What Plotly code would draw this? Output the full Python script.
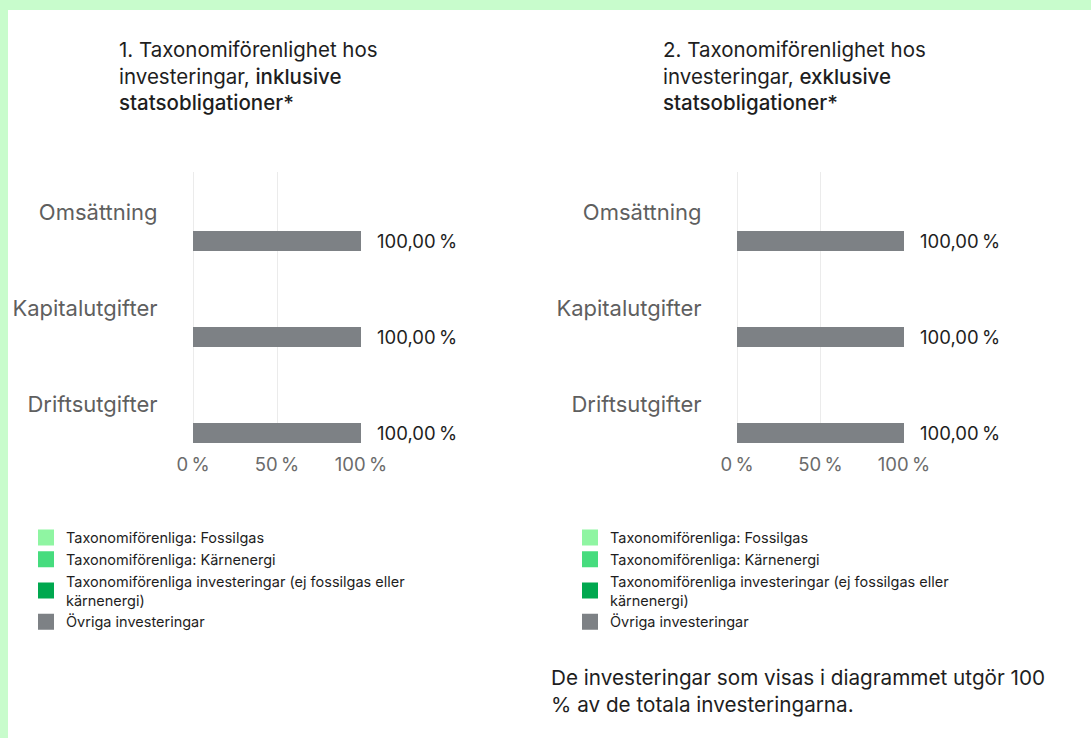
import plotly.graph_objects as go

W, H = 1091, 738

categories = ["Omsättning", "Kapitalutgifter", "Driftsutgifter"]
series_names = [
    "Taxonomiförenliga: Fossilgas",
    "Taxonomiförenliga: Kärnenergi",
    "Taxonomiförenliga investeringar (ej fossilgas eller<br>kärnenergi)",
    "Övriga investeringar",
]
series_colors = ["#8ff5a2", "#46dc7e", "#00a84f", "#7d8185"]

# values (%) for chart 1 (incl. government bonds)
incl_fossil = [0, 0, 0]
incl_nuclear = [0, 0, 0]
incl_aligned = [0, 0, 0]
incl_other = [100, 100, 100]

# values (%) for chart 2 (excl. government bonds)
excl_fossil = [0, 0, 0]
excl_nuclear = [0, 0, 0]
excl_aligned = [0, 0, 0]
excl_other = [100, 100, 100]

value_labels_incl = ["100,00\u202f%", "100,00\u202f%", "100,00\u202f%"]
value_labels_excl = ["100,00\u202f%", "100,00\u202f%", "100,00\u202f%"]

x_tickvals = [0, 50, 100]
x_ticktext = ["0\u202f%", "50\u202f%", "100\u202f%"]

BOLD = '<span style="font-weight:500">{}</span>'
titles = [
    "1. Taxonomiförenlighet hos<br>investeringar, " + BOLD.format("inklusive") + "<br>" + BOLD.format("statsobligationer*"),
    "2. Taxonomiförenlighet hos<br>investeringar, " + BOLD.format("exklusive") + "<br>" + BOLD.format("statsobligationer*"),
]
footnote = "De investeringar som visas i diagrammet utgör 100<br>% av de totala investeringarna."

FONT = "Inter, Roboto, sans-serif"
GREEN_BG = "#c8fccc"


def px(x):
    return x / W


def py(y):
    return 1 - y / H


fig = go.Figure()

datasets = [
    ("x", "y", "legend", [incl_fossil, incl_nuclear, incl_aligned, incl_other], value_labels_incl),
    ("x2", "y2", "legend2", [excl_fossil, excl_nuclear, excl_aligned, excl_other], value_labels_excl),
]

BAR_OFFSET = -0.406
BAR_WIDTH = 0.208

for xa, ya, leg, vals, labels in datasets:
    for name, color, v in zip(series_names, series_colors, vals):
        fig.add_trace(go.Bar(
            x=v, y=categories, orientation="h", name=name,
            marker=dict(color=color, line=dict(width=0)),
            offset=BAR_OFFSET, width=BAR_WIDTH,
            xaxis=xa, yaxis=ya, showlegend=False, hoverinfo="skip",
        ))
    # legend entries (square swatches) for the same series
    for name, color in zip(series_names, series_colors):
        fig.add_trace(go.Scatter(
            x=[None], y=[None], mode="markers", name=name,
            marker=dict(symbol="square", size=16, color=color, line=dict(width=0)),
            xaxis=xa, yaxis=ya, legend=leg, hoverinfo="skip",
        ))
    total = [sum(t) for t in zip(*vals)]
    for c, t, lab in zip(categories, total, labels):
        fig.add_annotation(
            x=t, y=c, xref=xa, yref=ya, text=lab, showarrow=False,
            xanchor="left", yanchor="middle", xshift=14, yshift=-29,
            font=dict(family=FONT, size=18.5, color="#1e1e1e"),
        )

y_range = [-0.406, 2.417]
ydom = [py(443), py(172)]

xaxis_common = dict(
    range=[0, 100], tickvals=x_tickvals, ticktext=x_ticktext,
    showgrid=True, gridcolor="#ebebeb", gridwidth=1,
    zeroline=True, zerolinecolor="#ebebeb", zerolinewidth=1,
    showline=False, ticks="outside", ticklen=5, tickcolor="rgba(0,0,0,0)",
    tickfont=dict(family=FONT, size=18.5, color="#6b6b6b"),
    fixedrange=True, automargin=False,
)
yaxis_common = dict(
    type="category", categoryorder="array", categoryarray=categories[::-1],
    range=y_range, domain=ydom, showgrid=False, zeroline=False, showline=False,
    ticks="outside", ticklen=30, tickcolor="rgba(0,0,0,0)",
    tickfont=dict(family=FONT, size=22, color="#5f5f5f"),
    fixedrange=True, automargin=False,
)

legend_common = dict(
    xanchor="left", yanchor="top",
    traceorder="normal", bgcolor="rgba(0,0,0,0)",
    font=dict(family=FONT, size=14.5, color="#1e1e1e"),
    itemclick=False, itemdoubleclick=False,
)

fig.update_layout(
    width=W, height=H,
    margin=dict(l=0, r=0, t=0, b=0, autoexpand=False),
    paper_bgcolor=GREEN_BG, plot_bgcolor="rgba(0,0,0,0)",
    barmode="overlay",
    xaxis=dict(domain=[px(193), px(361)], anchor="y", **xaxis_common),
    yaxis=dict(anchor="x", **yaxis_common),
    xaxis2=dict(domain=[px(737), px(904)], anchor="y2", **xaxis_common),
    yaxis2=dict(anchor="x2", **yaxis_common),
    showlegend=True,
    legend=dict(x=px(26), y=py(521.5), **legend_common),
    legend2=dict(x=px(570), y=py(521.5), **legend_common),
    shapes=[dict(
        type="rect", xref="paper", yref="paper",
        x0=px(8), x1=1, y0=0, y1=py(10),
        fillcolor="white", line=dict(width=0), layer="below",
    )],
)

for t, x0 in zip(titles, [117, 661]):
    fig.add_annotation(
        x=px(x0), y=py(34.5), xref="paper", yref="paper", text=t,
        showarrow=False, xanchor="left", yanchor="top", align="left",
        font=dict(family=FONT, size=20.5, color="#1e1e1e"),
    )

fig.add_annotation(
    x=px(549), y=py(663), xref="paper", yref="paper", text=footnote,
    showarrow=False, xanchor="left", yanchor="top", align="left",
    font=dict(family=FONT, size=20.7, color="#1e1e1e"),
)

fig.write_html(
    "out.html",
    config={"displayModeBar": False},
    post_script="document.body.style.margin='0';document.body.style.background='" + GREEN_BG + "';",
)
